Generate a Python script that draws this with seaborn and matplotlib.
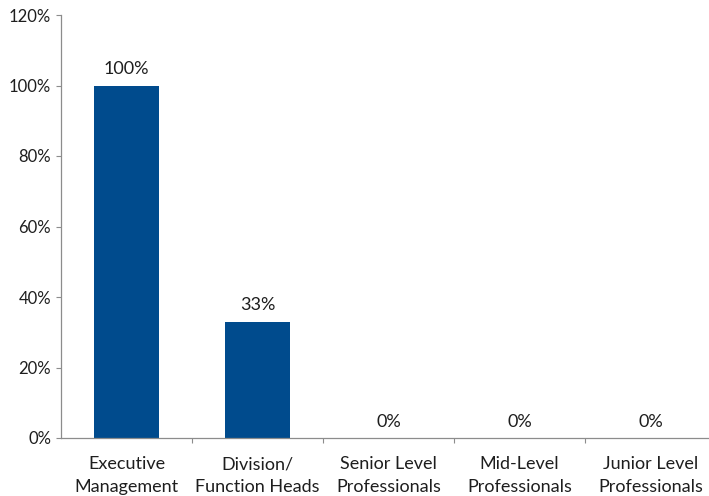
import matplotlib
matplotlib.use("Agg")
import matplotlib.pyplot as plt
import seaborn as sns
import pandas as pd
from matplotlib.ticker import FixedLocator, NullFormatter, FuncFormatter

categories = ["Executive\nManagement", "Division/\nFunction Heads", "Senior Level\nProfessionals",
              "Mid-Level\nProfessionals", "Junior Level\nProfessionals"]
shares = [100, 33, 0, 0, 0]
value_labels = ["100%", "33%", "0%", "0%", "0%"]
y_ticks = [0, 20, 40, 60, 80, 100, 120]

sns.set_theme(style="white")
plt.rcParams["font.family"] = ["Lato", "DejaVu Sans"]

BAR = "#004B8D"
AXIS = "#8C8C8C"
TEXT = "#1E1E1E"

df = pd.DataFrame({"level": categories, "share": shares})

fig = plt.figure(figsize=(7.09, 4.96), dpi=100)
W, H = 709, 496
ax = fig.add_axes([61 / W, (H - 438) / H, 655 / W, 423 / H])

sns.barplot(data=df, x="level", y="share", color=BAR, width=0.5, saturation=1,
            linewidth=0, ax=ax)

ax.set_xlim(-0.5, 4.5)
ax.set_ylim(0, 120)
ax.set_xlabel("")
ax.set_ylabel("")

# y axis
ax.yaxis.set_major_locator(FixedLocator(y_ticks))
ax.yaxis.set_major_formatter(FuncFormatter(lambda v, p: f"{v:.0f}%"))
ax.tick_params(axis="y", which="major", direction="out", length=3.6, width=0.8,
               color=AXIS, pad=3.6, labelsize=12, labelcolor=TEXT, left=True)

# x axis: ticks between categories, labels at category centres
ax.xaxis.set_major_locator(FixedLocator([0.5, 1.5, 2.5, 3.5]))
ax.xaxis.set_major_formatter(NullFormatter())
ax.set_xticks(range(len(categories)), labels=categories, minor=True)
ax.tick_params(axis="x", which="major", direction="out", length=3.6, width=0.8,
               color=AXIS, bottom=True)
ax.tick_params(axis="x", which="minor", length=0, pad=13, labelsize=13, labelcolor=TEXT)
for lab in ax.get_xticklabels(minor=True):
    lab.set_linespacing(1.55)

for side in ["top", "right"]:
    ax.spines[side].set_visible(False)
for side in ["left", "bottom"]:
    ax.spines[side].set_color(AXIS)
    ax.spines[side].set_linewidth(0.9)

for i, (v, lbl) in enumerate(zip(shares, value_labels)):
    ax.annotate(lbl, xy=(i, v), xytext=(0, 6), textcoords="offset points",
                ha="center", va="bottom", fontsize=13, color=TEXT)

ax.grid(False)
fig.savefig("out.png", dpi=100)
